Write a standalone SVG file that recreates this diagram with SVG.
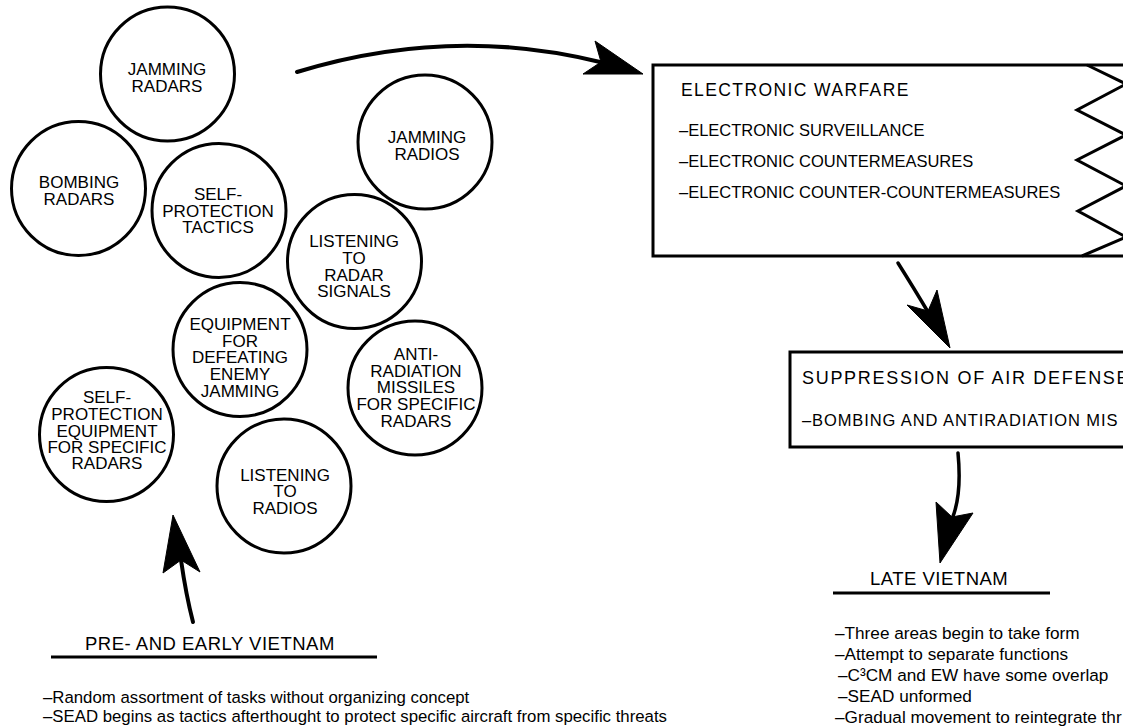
<svg xmlns="http://www.w3.org/2000/svg" width="1123" height="727" viewBox="0 0 1123 727">
<style>
text{font-family:"Liberation Sans",Arial,Helvetica,sans-serif;fill:#000}
.c{fill:#fff;stroke:#000;stroke-width:3}
.ct{font-size:17px;text-anchor:middle}
.box{fill:none;stroke:#000;stroke-width:3}
.shaft{fill:none;stroke:#000;stroke-width:4;stroke-linecap:round}
.head{fill:#000;stroke:#000;stroke-width:1;stroke-linejoin:miter}
.h{font-size:18.5px;letter-spacing:0.5px}
.ul{stroke:#000;stroke-width:3}
.bl{font-size:16.8px}
.br{font-size:17.2px}
.ew{font-size:16.5px}
</style>
<rect width="1123" height="727" fill="#fff"/>

<g id="n-jamming-radars">
<circle class="c" cx="167.5" cy="74" r="67"/>
<text class="ct" x="167" y="75">JAMMING</text>
<text class="ct" x="167" y="92">RADARS</text>
</g>
<g id="n-bombing-radars">
<circle class="c" cx="78.5" cy="188.5" r="67"/>
<text class="ct" x="79" y="188">BOMBING</text>
<text class="ct" x="79" y="205">RADARS</text>
</g>
<g id="n-self-protection-tactics">
<circle class="c" cx="219" cy="210.5" r="67"/>
<text class="ct" x="218" y="200">SELF-</text>
<text class="ct" x="218" y="217">PROTECTION</text>
<text class="ct" x="218" y="233">TACTICS</text>
</g>
<g id="n-jamming-radios">
<circle class="c" cx="425" cy="142" r="67"/>
<text class="ct" x="427" y="143">JAMMING</text>
<text class="ct" x="427" y="160">RADIOS</text>
</g>
<g id="n-listening-radar">
<circle class="c" cx="354.5" cy="261.5" r="67"/>
<text class="ct" x="354" y="247">LISTENING</text>
<text class="ct" x="354" y="264">TO</text>
<text class="ct" x="354" y="281">RADAR</text>
<text class="ct" x="354" y="297">SIGNALS</text>
</g>
<g id="n-equipment-defeating">
<circle class="c" cx="240" cy="349.5" r="67"/>
<text class="ct" x="240" y="330">EQUIPMENT</text>
<text class="ct" x="240" y="347">FOR</text>
<text class="ct" x="240" y="363">DEFEATING</text>
<text class="ct" x="240" y="380">ENEMY</text>
<text class="ct" x="240" y="397">JAMMING</text>
</g>
<g id="n-self-protection-equipment">
<circle class="c" cx="106.5" cy="434.5" r="67"/>
<text class="ct" x="107" y="403">SELF-</text>
<text class="ct" x="107" y="420">PROTECTION</text>
<text class="ct" x="107" y="437">EQUIPMENT</text>
<text class="ct" x="107" y="453">FOR SPECIFIC</text>
<text class="ct" x="107" y="469">RADARS</text>
</g>
<g id="n-anti-radiation">
<circle class="c" cx="415" cy="388" r="67"/>
<text class="ct" x="416" y="360">ANTI-</text>
<text class="ct" x="416" y="377">RADIATION</text>
<text class="ct" x="416" y="393">MISSILES</text>
<text class="ct" x="416" y="410">FOR SPECIFIC</text>
<text class="ct" x="416" y="427">RADARS</text>
</g>
<g id="n-listening-radios">
<circle class="c" cx="284" cy="486" r="67"/>
<text class="ct" x="285" y="481">LISTENING</text>
<text class="ct" x="285" y="497">TO</text>
<text class="ct" x="285" y="514">RADIOS</text>
</g>

<g id="n-electronic-warfare">
<path class="box" d="M1123,65 H653 V256 H1123"/>
<polyline class="box" points="1087,65 1126,84 1077,110 1126,135 1077,160 1126,186 1078,211 1126,237 1082,256"/>
<text x="681" y="96" style="font-size:17.5px;letter-spacing:1.4px">ELECTRONIC WARFARE</text>
<text class="ew" x="679" y="136">–ELECTRONIC SURVEILLANCE</text>
<text class="ew" x="679" y="167">–ELECTRONIC COUNTERMEASURES</text>
<text class="ew" x="679" y="198">–ELECTRONIC COUNTER-COUNTERMEASURES</text>
</g>

<g id="n-sead">
<path class="box" d="M1130,352 H790 V447 H1130"/>
<text x="802" y="384" style="font-size:18px;letter-spacing:1.7px">SUPPRESSION OF AIR DEFENSE</text>
<text x="802" y="426" style="font-size:16.5px;letter-spacing:0.9px">–BOMBING AND ANTIRADIATION MIS</text>
</g>

<g id="n-late-vietnam">
<text class="h" x="870" y="585">LATE VIETNAM</text>
<line class="ul" x1="833" y1="593" x2="1050" y2="593"/>
<text class="br" x="835" y="639">–Three areas begin to take form</text>
<text class="br" x="835" y="660">–Attempt to separate functions</text>
<text class="br" x="838" y="681">–C³CM and EW have some overlap</text>
<text class="br" x="838" y="702">–SEAD unformed</text>
<text class="br" x="835" y="723">–Gradual movement to reintegrate thr</text>
</g>

<g id="n-pre-early-vietnam">
<text class="h" x="85" y="650">PRE- AND EARLY VIETNAM</text>
<line class="ul" x1="51" y1="657" x2="377" y2="657"/>
<text class="bl" x="43" y="703">–Random assortment of tasks without organizing concept</text>
<text class="bl" x="43" y="721.5">–SEAD begins as tactics afterthought to protect specific aircraft from specific threats</text>
</g>

<g id="connectors">
<path class="shaft" d="M297,72 Q450,25 600,62"/>
<polygon class="head" points="595,41 643,74 583,74 601,62"/>
<path class="shaft" d="M898,263 Q915,290 928,312" style="stroke-width:3.5"/>
<polygon class="head" points="907,305 928,311 937,290 950,348"/>
<path class="shaft" d="M958,453 Q962,495 952,519" style="stroke-width:3.5"/>
<polygon class="head" points="936,502 952,517 973,513 940,563"/>
<path class="shaft" d="M181,560 Q186,595 193,622"/>
<polygon class="head" points="173,515 200,572 181,560 163,573"/>
</g>
</svg>
